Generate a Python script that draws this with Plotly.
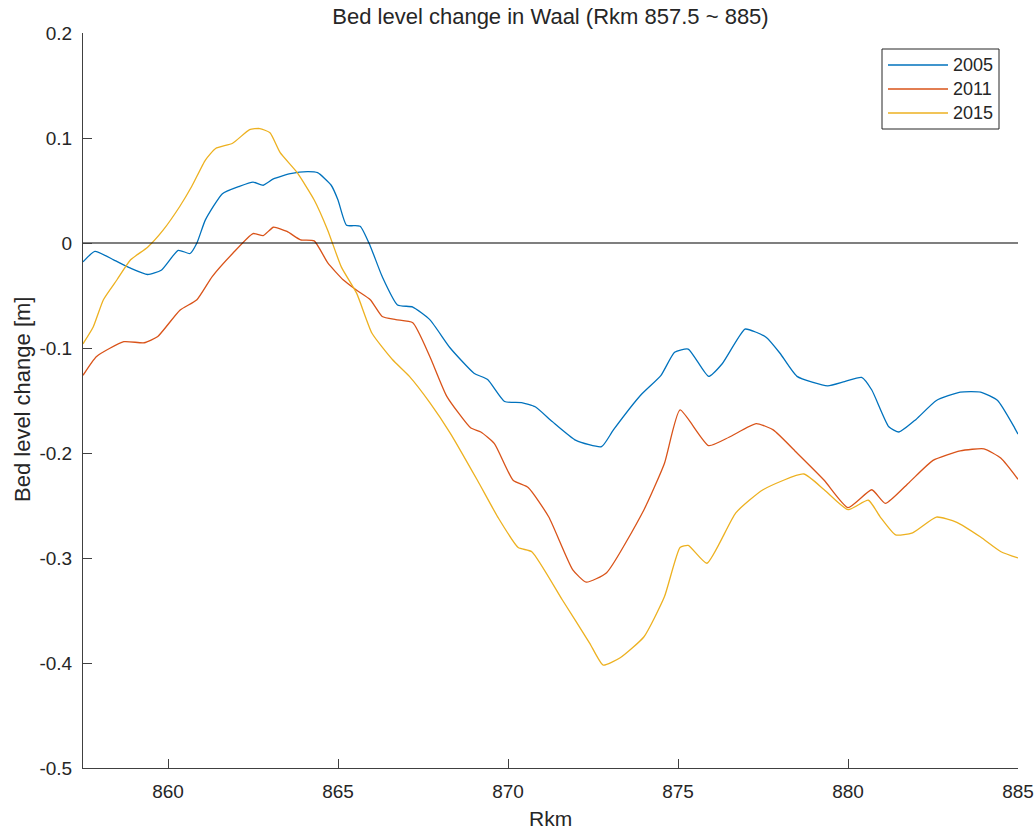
import plotly.graph_objects as go

# River kilometre positions and bed level change [m] per survey year
rkm_2005 = [857.5, 857.85, 858.4, 858.9, 859.4, 859.8, 860.3, 860.65, 860.85, 861.1,
            861.6, 862.1, 862.5, 862.8, 863.1, 863.6, 864.1, 864.4, 864.8, 865.0,
            865.25, 865.65, 865.95, 866.3, 866.75, 867.2, 867.7, 868.3, 869.0, 869.4,
            869.9, 870.4, 870.8, 871.3, 872.0, 872.75, 873.1, 873.9, 874.5, 874.9,
            875.3, 875.9, 876.3, 876.97, 877.3, 877.6, 878.0, 878.5, 879.4, 879.9,
            880.4, 880.7, 881.2, 881.5, 882.0, 882.6, 883.3, 883.9, 884.4, 884.9, 885.0]
dz_2005 = [-0.018, -0.008, -0.016, -0.024, -0.030, -0.026, -0.007, -0.010, 0.000, 0.022,
           0.047, 0.054, 0.058, 0.055, 0.061, 0.066, 0.068, 0.067, 0.055, 0.041,
           0.017, 0.016, -0.003, -0.032, -0.059, -0.061, -0.073, -0.100, -0.124, -0.130,
           -0.151, -0.152, -0.156, -0.170, -0.188, -0.194, -0.178, -0.145, -0.126, -0.104,
           -0.101, -0.127, -0.115, -0.082, -0.085, -0.090, -0.105, -0.127, -0.136, -0.132,
           -0.128, -0.140, -0.175, -0.180, -0.168, -0.150, -0.142, -0.142, -0.150, -0.176,
           -0.182]

rkm_2011 = [857.5, 857.9, 858.7, 859.3, 859.7, 860.35, 860.85, 861.3, 861.9, 862.5,
            862.8, 863.1, 863.5, 863.9, 864.3, 864.7, 865.15, 865.55, 865.95, 866.3,
            866.7, 867.2, 867.7, 868.2, 868.9, 869.2, 869.6, 870.15, 870.6, 871.2,
            871.9, 872.3, 872.9, 874.0, 874.6, 875.06, 875.9, 876.5, 877.3, 877.8,
            878.5, 879.3, 880.0, 880.7, 881.1, 881.8, 882.5, 883.3, 884.0, 884.5, 885.0]
dz_2011 = [-0.126, -0.108, -0.094, -0.095, -0.089, -0.064, -0.054, -0.032, -0.010, 0.009,
           0.007, 0.015, 0.011, 0.003, 0.002, -0.019, -0.035, -0.045, -0.054, -0.070,
           -0.073, -0.076, -0.108, -0.146, -0.176, -0.180, -0.191, -0.226, -0.233, -0.261,
           -0.311, -0.323, -0.314, -0.254, -0.210, -0.159, -0.193, -0.185, -0.172, -0.178,
           -0.200, -0.226, -0.252, -0.235, -0.248, -0.228, -0.207, -0.198, -0.196, -0.205,
           -0.225]

rkm_2015 = [857.5, 857.8, 858.1, 858.5, 858.9, 859.4, 859.85, 860.35, 860.7, 861.1,
            861.4, 861.9, 862.4, 862.7, 863.0, 863.3, 863.8, 864.3, 864.7, 865.1,
            865.55, 866.0, 866.6, 867.1, 867.7, 868.3, 869.1, 869.7, 870.3, 870.7,
            871.6, 872.4, 872.8, 873.3, 874.0, 874.6, 875.06, 875.3, 875.85, 876.7,
            877.5, 878.7, 879.3, 880.0, 880.6, 880.95, 881.4, 881.9, 882.6, 883.2,
            883.9, 884.5, 885.0]
dz_2015 = [-0.096, -0.080, -0.054, -0.035, -0.016, -0.004, 0.012, 0.035, 0.054, 0.079,
           0.090, 0.095, 0.108, 0.109, 0.105, 0.086, 0.067, 0.041, 0.012, -0.023,
           -0.048, -0.086, -0.111, -0.127, -0.152, -0.181, -0.226, -0.261, -0.290, -0.294,
           -0.340, -0.381, -0.402, -0.395, -0.375, -0.337, -0.290, -0.288, -0.305, -0.257,
           -0.235, -0.220, -0.235, -0.254, -0.245, -0.261, -0.278, -0.276, -0.261, -0.266,
           -0.280, -0.294, -0.300]

years = ["2005", "2011", "2015"]
colors = ["#0072BD", "#D95319", "#EDB120"]

x_ticks = [860, 865, 870, 875, 880, 885]
y_ticks = [0.2, 0.1, 0.0, -0.1, -0.2, -0.3, -0.4, -0.5]
y_tick_text = ["0.2", "0.1", "0", "-0.1", "-0.2", "-0.3", "-0.4", "-0.5"]

W, H = 1035, 830
L, R, T, B = 83, 1018, 33, 768  # plot area in pixels
FONT = "Arial, Liberation Sans, sans-serif"
INK = "#262626"
AXIS = "#404040"


def px(xp):
    return (xp - L) / (R - L)


def py(yp):
    return (B - yp) / (B - T)


fig = go.Figure()
for x, y, name, c in zip([rkm_2005, rkm_2011, rkm_2015],
                         [dz_2005, dz_2011, dz_2015], years, colors):
    fig.add_trace(go.Scatter(x=x, y=y, mode="lines", name=name,
                             line=dict(color=c, width=1.3, shape="spline", smoothing=0.5),
                             showlegend=False))

# Reference line at zero change
fig.add_trace(go.Scatter(x=[857.5, 885], y=[0, 0], mode="lines",
                         line=dict(color="#000000", width=1.2), showlegend=False))

# Legend box drawn by hand (MATLAB style)
shapes = [dict(type="rect", xref="paper", yref="paper",
               x0=px(882), x1=px(999), y0=py(129), y1=py(49),
               line=dict(color=INK, width=1), fillcolor="white", layer="above")]
annotations = []
for i, (name, c) in enumerate(zip(years, colors)):
    yc = 65 + 24 * i
    shapes.append(dict(type="line", xref="paper", yref="paper",
                       x0=px(888), x1=px(948), y0=py(yc), y1=py(yc),
                       line=dict(color=c, width=1.3), layer="above"))
    annotations.append(dict(text=name, xref="paper", yref="paper",
                            x=px(951), y=py(yc), xanchor="left", yanchor="middle",
                            showarrow=False, font=dict(family=FONT, size=18, color=INK)))

annotations.append(dict(text="Bed level change [m]", xref="paper", yref="paper",
                        x=px(23), y=py(400), textangle=-90, xanchor="center",
                        yanchor="middle", showarrow=False,
                        font=dict(family=FONT, size=22, color=INK)))
annotations.append(dict(text="Rkm", xref="paper", yref="paper",
                        x=px(550), y=py(818), xanchor="center", yanchor="middle",
                        showarrow=False, font=dict(family=FONT, size=21, color=INK)))

fig.update_layout(
    width=W, height=H, autosize=False,
    margin=dict(l=L, r=W - R, t=T, b=H - B, pad=0, autoexpand=False),
    plot_bgcolor="white", paper_bgcolor="white",
    title=dict(text="Bed level change in Waal (Rkm 857.5 ~ 885)",
               x=0.5, xref="paper", xanchor="center",
               y=1 - 16 / H, yref="container", yanchor="middle",
               font=dict(family=FONT, size=22, color=INK)),
    shapes=shapes, annotations=annotations,
    showlegend=False,
)
fig.update_xaxes(range=[857.5, 885], tickvals=x_ticks, ticks="inside", ticklen=9,
                 tickcolor=AXIS, showline=True, linecolor=AXIS, linewidth=1,
                 showgrid=False, zeroline=False, automargin=False,
                 ticklabelstandoff=6,
                 tickfont=dict(family=FONT, size=19, color=INK))
fig.update_yaxes(range=[-0.5, 0.2], tickvals=y_ticks, ticktext=y_tick_text,
                 ticks="inside", ticklen=9, tickcolor=AXIS, showline=True,
                 linecolor=AXIS, linewidth=1, showgrid=False, zeroline=False,
                 automargin=False, ticklabelstandoff=6,
                 tickfont=dict(family=FONT, size=19, color=INK))

fig.write_html("out.html")
